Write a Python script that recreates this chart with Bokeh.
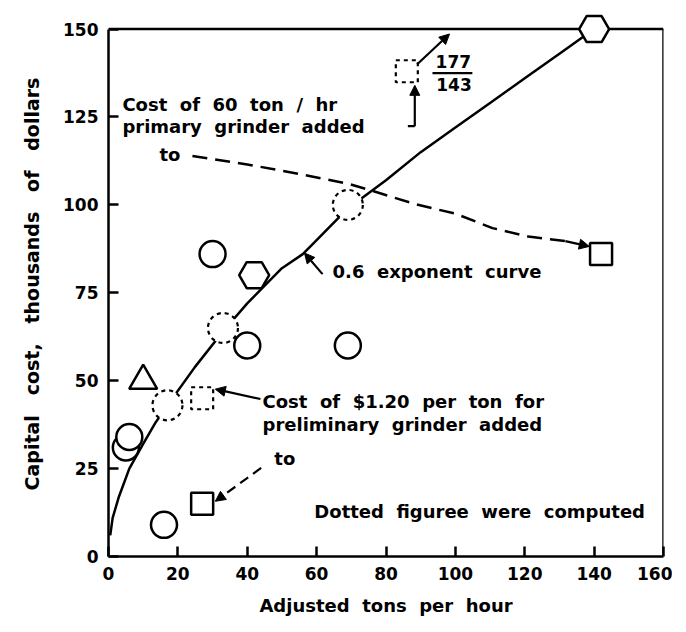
from bokeh.plotting import figure
from bokeh.models import Range1d, FixedTicker, Arrow, NormalHead, Label, Title
from bokeh.embed import file_html
from bokeh.resources import INLINE

# ---- data ----
circle_x = [5, 6, 16, 30, 40, 69]
circle_y = [31, 34, 9, 86, 60, 60]
hex_x = [42, 140]
hex_y = [80, 150]
tri_x = [10]
tri_y = [50]
square_x = [27, 142]
square_y = [15, 86]
dcircle_x = [17, 33, 69]
dcircle_y = [43, 65, 100]
dsquare_x = [27, 86]
dsquare_y = [45, 138]

curve_x = [0.5, 1.2, 3, 6, 10, 13.5, 17, 25, 33, 40, 50, 56, 60, 69, 80, 90, 100, 110, 120, 130, 140]
curve_y = [6, 11, 17, 25, 32, 38, 43, 54, 64, 72, 82, 86, 90, 99, 107, 115, 122, 129, 136, 143, 150]

upper_dash_x = [24.2, 40, 55, 69.5, 76, 88.5, 100, 110.7, 121, 131.7]
upper_dash_y = [113.9, 111.5, 108.8, 105.9, 104.0, 100.2, 97.5, 93.4, 91.0, 89.7]

x_ticks = [0, 20, 40, 60, 80, 100, 120, 140, 160]
y_ticks = [0, 25, 50, 75, 100, 125, 150]

FONT = "DejaVu Sans"

def spaced(s, n=1):
    return (" " + "\u00a0" * n).join(s.split(" "))

X_MAX = x_ticks[-1]
Y_MAX = y_ticks[-1]

p = figure(frame_width=555, frame_height=545, output_backend="svg", toolbar_location=None,
           x_range=Range1d(0, X_MAX), y_range=Range1d(0, 155),
           min_border_left=106, min_border_right=9, min_border_top=11, min_border_bottom=60)
p.grid.visible = False
p.background_fill_color = "white"
p.border_fill_color = "white"
p.outline_line_color = None

for ax, ticks in ((p.xaxis, x_ticks), (p.yaxis, y_ticks)):
    ax.ticker = FixedTicker(ticks=ticks)
    ax.major_tick_in = 10
    ax.major_tick_out = 0
    ax.minor_tick_line_color = None
    ax.axis_line_width = 2.5
    ax.major_tick_line_width = 2.5
    ax.major_label_text_font = FONT
    ax.major_label_text_font_style = "bold"
    ax.major_label_text_font_size = "17px"
    ax.major_label_text_color = "black"
    ax.axis_label_text_font = FONT
    ax.axis_label_text_font_style = "bold"
    ax.axis_label_text_color = "black"
    ax.major_label_standoff = 10
p.yaxis.bounds = (0, Y_MAX)

p.xaxis.axis_label = spaced("Adjusted tons per hour")
p.xaxis.axis_label_text_font_size = "18px"
p.xaxis.axis_label_standoff = 12

# y axis title as a side title in the left panel
p.add_layout(Title(text=spaced("Capital cost, thousands of dollars", 2), align="center", offset=10,
                   text_font=FONT, text_font_style="bold", text_font_size="19px",
                   text_color="black", standoff=36), "left")

# frame top and right sides
p.line([0, X_MAX], [Y_MAX, Y_MAX], line_color="black", line_width=2.5)
p.line([X_MAX, X_MAX], [0, Y_MAX], line_color="black", line_width=2.5)

# curve
p.line(curve_x, curve_y, line_color="black", line_width=2.5)
# dashed upper line
p.line(upper_dash_x, upper_dash_y, line_color="black", line_width=2.5, line_dash="15 8")

# markers
p.scatter(circle_x, circle_y, marker="circle", size=26, fill_color="white", line_color="black", line_width=2.5)
p.scatter(hex_x, hex_y, marker="hex", size=30, fill_color="white", line_color="black", line_width=2.5)
p.scatter(tri_x, tri_y, marker="triangle", size=28, fill_color="white", line_color="black", line_width=2.5)
p.scatter(square_x, square_y, marker="square", size=22, fill_color="white", line_color="black", line_width=2.5)
p.scatter(dcircle_x, dcircle_y, marker="circle", size=30, fill_color="white", line_color="black",
          line_width=2.2, line_dash="4 4")
p.scatter(dsquare_x, dsquare_y, marker="square", size=22, fill_color="white", line_color="black",
          line_width=2.2, line_dash="4 4")

def arrow(x0, y0, x1, y1, dash="solid"):
    p.add_layout(Arrow(x_start=x0, y_start=y0, x_end=x1, y_end=y1, line_width=2.2, line_dash=dash,
                       end=NormalHead(size=10, fill_color="black", line_color="black", line_width=1)))

arrow(131.7, 89.7, 138.6, 88.2, "15 8")
arrow(44.0, 25.2, 30.8, 15.7, "10 6")
arrow(61.7, 80.3, 56.5, 86.3)
arrow(43.8, 44.8, 30.8, 47.6)
arrow(89.0, 140.0, 98.3, 148.6)
arrow(88.3, 122.4, 88.3, 134.0)
p.line([86.3, 88.3], [122.4, 122.4], line_color="black", line_width=2.2)
p.line([93.4, 104.9], [137.5, 137.5], line_color="black", line_width=2.2)

def label(x, y, t, size="18px", align="left"):
    p.add_layout(Label(x=x, y=y, text=t, text_font=FONT, text_font_style="bold",
                       text_font_size=size, text_baseline="middle", text_align=align,
                       text_color="black"))

label(4.0, 128.5, spaced("Cost of 60 ton / hr"))
label(4.0, 122.2, spaced("primary grinder added"))
label(14.7, 114.2, "to")
label(64.6, 81.0, spaced("0.6 exponent curve"))
label(44.4, 44.1, spaced("Cost of $1.20 per ton for"))
label(44.4, 37.6, spaced("preliminary grinder added"))
label(47.8, 27.9, "to")
label(107.0, 12.8, spaced("Dotted figuree were computed"), align="center")
label(99.4, 140.9, "177", "17px", "center")
label(99.6, 134.1, "143", "17px", "center")

open("out.html", "w").write(file_html(p, INLINE))
